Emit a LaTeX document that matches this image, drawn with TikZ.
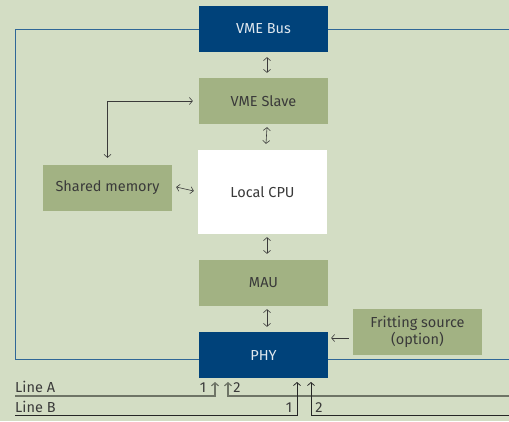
\documentclass[tikz,border=0pt]{standalone}
\usepackage{fontspec}
\setmainfont{Fira Sans}
\usetikzlibrary{arrows.meta}
\definecolor{bg}{HTML}{D3DDC4}
\definecolor{navy}{HTML}{00427A}
\definecolor{boxgreen}{HTML}{A2B283}
\definecolor{frame}{HTML}{2F6797}
\definecolor{txt}{HTML}{3A3A3A}
\definecolor{lineA}{HTML}{6E7466}
\begin{document}
\begin{tikzpicture}[x=1pt,y=-1pt,
  >={Straight Barb[length=3pt,width=7pt]},
  blk/.style={minimum width=129pt,minimum height=46pt,inner sep=0pt,font=\fontsize{14.5}{14.5}\selectfont},
  bluebox/.style={blk,fill=navy,text=white!88!navy},
  greenbox/.style={blk,fill=boxgreen,text=txt},
  conn/.style={draw=txt,line width=0.6pt},
  lbl/.style={inner sep=0pt,text=txt,font=\fontsize{14.5}{14.5}\selectfont,anchor=base west}]
\fill[bg] (0,0) rectangle (509,421);
\useasboundingbox (0,0) rectangle (509,421);
% frame
\draw[frame,line width=1pt] (199,29) -- (15,29) -- (15,359) -- (199,359);
\draw[frame,line width=1pt] (328,29) -- (509,29);
\draw[frame,line width=1pt] (328,359) -- (509,359);
% blocks
\node[bluebox] (bus) at (263.5,29) {VME Bus};
\node[greenbox] (slave) at (263.5,101) {VME Slave};
\node[blk,fill=white,text=txt,minimum height=84pt] (cpu) at (262.5,192) {Local CPU};
\node[greenbox] (shm) at (107.5,188) {Shared memory};
\node[greenbox] (mau) at (263.5,283) {MAU};
\node[bluebox] (phy) at (263.5,355) {PHY};
\node[greenbox,align=center,font=\fontsize{14.5}{12}\selectfont] (frit) at (417.5,332) {Fritting source\\(option)};
% connectors
\draw[conn,<->] ([xshift=3.5pt,yshift=-5pt]bus.south) -- ([xshift=3.5pt,yshift=5pt]slave.north);
\draw[conn,<->] ([xshift=3.5pt,yshift=-3pt]slave.south) -- ([xshift=3.5pt,yshift=6pt]cpu.north);
\draw[conn,<->] ([xshift=-6pt]slave.west) -| ([yshift=7pt]shm.north);
\draw[conn,<->] ([xshift=4pt,yshift=1pt]shm.east) -- ([xshift=-4pt,yshift=1pt]cpu.west);
\draw[conn,<->] ([xshift=4.5pt,yshift=-3pt]cpu.south) -- ([xshift=3.5pt,yshift=6pt]mau.north);
\draw[conn,<->] ([xshift=3.5pt,yshift=-3pt]mau.south) -- ([xshift=3.5pt,yshift=5pt]phy.north);
\draw[conn,->] ([xshift=-4pt,yshift=-6pt]frit.west) -- ([xshift=3pt,yshift=-6pt]frit.west -| phy.east);
% lines
\node[lbl] (la) at (15,392) {Line A};
\node[lbl] (lb) at (15,412) {Line B};
\coordinate (a1) at (215,382);
\coordinate (a2) at (228,382);
\coordinate (b1) at (297,382);
\coordinate (b2) at (311,382);
\draw[lineA,line width=1.2pt,->] (15,396) -- (215,396) -- (a1);
\draw[lineA,line width=1.2pt,<-] (a2) -- (228,396) -- (509,396);
\draw[black!85,line width=0.8pt,->] (15,415) -- (297,415) -- (b1);
\draw[black!85,line width=0.8pt,<-] (b2) -- (311,415) -- (509,415);
\node[lbl,anchor=base] (n1) at (203,392) {1};
\node[lbl,anchor=base] (n2) at (237,392) {2};
\node[lbl,anchor=base] (n3) at (289,412) {1};
\node[lbl,anchor=base] (n4) at (319,412) {2};
\end{tikzpicture}
\end{document}
